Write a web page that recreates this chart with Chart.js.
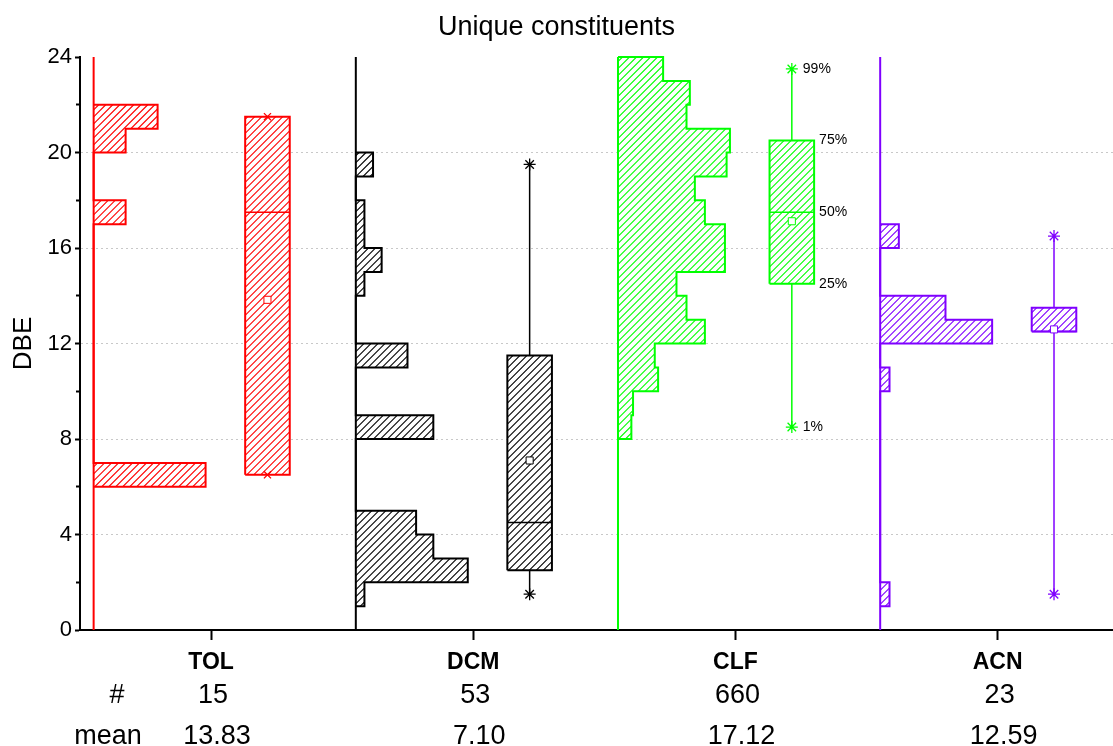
<!DOCTYPE html>
<html>
<head>
<meta charset="utf-8">
<title>Unique constituents</title>
<script src="https://cdn.jsdelivr.net/npm/chart.js@4.4.1/dist/chart.umd.min.js"></script>
<style>
  body { margin: 0; background: #fff; }
  canvas { display: block; }
</style>
</head>
<body>
<canvas id="dbeChart" width="1113" height="746"></canvas>
<script>
const categories = ['TOL', 'DCM', 'CLF', 'ACN']
const colors = ['#ff0000', '#000000', '#00ff00', '#7f00ff']

// histogram bins: lower DBE edge of each 1-wide bin and its count
const tolEdges = [6, 17, 20, 21]
const tolCounts = [7, 2, 2, 4]
const dcmEdges = [1, 2, 3, 4, 8, 11, 14, 15, 16, 17, 19]
const dcmCounts = [1, 13, 9, 7, 9, 6, 1, 3, 1, 1, 2]
const clfEdges = [8, 9, 10, 11, 12, 13, 14, 15, 16, 17, 18, 19, 20, 21, 22, 23]
const clfCounts = [8, 9, 24, 22, 52, 41, 35, 64, 64, 52, 46, 65, 67, 41, 43, 27]
const acnEdges = [1, 10, 12, 13, 16]
const acnCounts = [1, 1, 12, 7, 2]

// box plot percentiles
const p1 = [6.5, 1.5, 8.5, 1.5]
const p25 = [6.5, 2.5, 14.5, 12.5]
const p50 = [17.5, 4.5, 17.5, 12.5]
const p75 = [21.5, 11.5, 20.5, 13.5]
const p99 = [21.5, 19.5, 23.5, 16.5]

const nValues = [15, 53, 660, 23]
const meanValues = [13.83, 7.10, 17.12, 12.59]

const pctLabels = ['1%', '25%', '50%', '75%', '99%']
const yTicks = [0, 4, 8, 12, 16, 20, 24]
const yMinorTicks = [2, 6, 10, 14, 18, 22]

const histSets = [[tolEdges, tolCounts], [dcmEdges, dcmCounts], [clfEdges, clfCounts], [acnEdges, acnCounts]]

// offsets inside one category slot (x units, slot width = 1)
const HIST_BASE = -0.448
const HIST_MAX = 0.427
const BOX_OFFSET = 0.215
const BOX_HALF = 0.085
const HATCH_GAP = 7
const FONT = "'Liberation Sans', Arial, sans-serif"

Chart.defaults.font.family = FONT
Chart.defaults.color = '#000'

// step outline of a sideways histogram, starting and ending on the baseline
function histOutline(edges, counts, center) {
    const base = center + HIST_BASE
    const peak = Math.max(...counts)
    const pts = [{x: base, y: edges[0]}]
    let prevTop = edges[0]
    edges.forEach((lo, i) => {
        const x = base + counts[i] / peak * HIST_MAX
        if (lo !== prevTop) pts.push({x: base, y: prevTop}, {x: base, y: lo})
        pts.push({x: x, y: lo}, {x: x, y: lo + 1})
        prevTop = lo + 1
    })
    pts.push({x: base, y: prevTop})
    return pts
}

const datasets = []
categories.forEach((name, i) => {
    const col = colors[i]
    const base = i + HIST_BASE
    const bc = i + BOX_OFFSET
    const line = {showLine: true, pointRadius: 0, clip: false, borderColor: col}

    datasets.push({...line, data: [{x: base, y: 0}, {x: base, y: 24}], borderWidth: 2, order: 1})
    datasets.push({...line, data: histOutline(histSets[i][0], histSets[i][1], i),
        fill: 'shape', backgroundColor: '#fff', hatched: true, borderWidth: 2, order: 2})
    datasets.push({...line, data: [{x: bc, y: p1[i]}, {x: bc, y: p99[i]}], borderWidth: 1.5, order: 4})
    datasets.push({...line, data: [
        {x: bc - BOX_HALF, y: p25[i]}, {x: bc + BOX_HALF, y: p25[i]},
        {x: bc + BOX_HALF, y: p75[i]}, {x: bc - BOX_HALF, y: p75[i]},
        {x: bc - BOX_HALF, y: p25[i]}
    ], fill: 'shape', backgroundColor: '#fff', hatched: true, borderWidth: 2, order: 3})
    datasets.push({...line, data: [{x: bc - BOX_HALF, y: p50[i]}, {x: bc + BOX_HALF, y: p50[i]}], borderWidth: 1.5, order: 1})
    datasets.push({data: [{x: bc, y: p1[i]}, {x: bc, y: p99[i]}], showLine: false, clip: false,
        pointStyle: i === 0 ? 'crossRot' : 'star', pointRadius: i === 0 ? 5 : 6,
        borderColor: col, backgroundColor: col, pointBorderWidth: 1.3, order: 0})
    datasets.push({data: [{x: bc, y: meanValues[i]}], showLine: false, clip: false,
        pointStyle: 'rect', pointRadius: 5, borderColor: col, backgroundColor: '#fff',
        pointBorderWidth: 1, order: 0})
})

// diagonal hatching inside the filled shapes, drawn after the white fill and before the outline
const hatching = {
    id: 'hatching',
    beforeDatasetDraw(chart, args) {
        const ds = chart.data.datasets[args.index]
        if (!ds.hatched) return
        const pts = args.meta.data
        const c = chart.ctx
        let minX = Infinity, minY = Infinity, maxX = -Infinity, maxY = -Infinity
        c.save()
        c.beginPath()
        pts.forEach((p, j) => {
            if (j === 0) c.moveTo(p.x, p.y)
            else c.lineTo(p.x, p.y)
            minX = Math.min(minX, p.x); maxX = Math.max(maxX, p.x)
            minY = Math.min(minY, p.y); maxY = Math.max(maxY, p.y)
        })
        c.closePath()
        c.clip()
        c.strokeStyle = ds.borderColor
        c.lineWidth = 1.1
        c.beginPath()
        const start = Math.floor((minX + minY) / HATCH_GAP) * HATCH_GAP
        for (let k = start; k <= maxX + maxY + HATCH_GAP; k += HATCH_GAP) {
            c.moveTo(k - minY + 0.5, minY)
            c.lineTo(k - maxY + 0.5, maxY)
        }
        c.stroke()
        c.restore()
    }
}

// percentile labels next to the CLF box, and the count / mean rows under the axis
const annotations = {
    id: 'annotations',
    afterDraw(chart) {
        const c = chart.ctx
        const xs = chart.scales.x
        const ys = chart.scales.y
        const area = chart.chartArea

        const k = 2
        const bc = k + BOX_OFFSET
        const stats = [p1[k], p25[k], p50[k], p75[k], p99[k]]
        c.save()
        c.fillStyle = '#000'
        c.font = '14px ' + FONT
        c.textAlign = 'left'
        c.textBaseline = 'middle'
        stats.forEach((v, j) => {
            const x = (j === 0 || j === 4) ? xs.getPixelForValue(bc) + 11 : xs.getPixelForValue(bc + BOX_HALF) + 5
            c.fillText(pctLabels[j], x, ys.getPixelForValue(v))
        })

        c.font = '27px ' + FONT
        c.textAlign = 'center'
        const rowN = area.bottom + 66
        const rowMean = area.bottom + 107
        c.fillText('#', area.left + 37, rowN)
        c.fillText('mean', area.left + 28, rowMean)
        categories.forEach((name, i) => {
            const x = xs.getPixelForValue(i)
            c.fillText(String(nValues[i]), x + 2, rowN)
            c.fillText(meanValues[i].toFixed(2), x + 6, rowMean)
        })
        c.restore()
    }
}

new Chart(document.getElementById('dbeChart'), {
    type: 'scatter',
    data: { datasets: datasets },
    options: {
        responsive: false,
        animation: false,
        events: [],
        layout: { padding: 0, autoPadding: false },
        plugins: {
            legend: { display: false },
            tooltip: { enabled: false },
            title: {
                display: true,
                text: 'Unique constituents',
                color: '#000',
                font: { size: 27, weight: 'normal' },
                padding: { top: 11, bottom: 13.6 }
            }
        },
        scales: {
            x: {
                type: 'linear',
                min: -0.5,
                max: 3.44,
                afterBuildTicks: s => { s.ticks = categories.map((c, i) => ({value: i})) },
                afterFit: s => { s.height = 116 },
                ticks: {
                    callback: v => categories[v],
                    font: { size: 23, weight: 'bold' },
                    color: '#000',
                    padding: 9,
                    maxRotation: 0,
                    autoSkip: false
                },
                grid: { drawOnChartArea: false, tickLength: 10, tickWidth: 2, tickColor: '#000' },
                border: { color: '#000', width: 2 }
            },
            y: {
                min: 0,
                max: 24,
                afterBuildTicks: s => { s.ticks = yTicks.map(v => ({value: v})) },
                afterFit: s => { s.width = 80 },
                ticks: { font: { size: 22 }, color: '#000', padding: 3 },
                grid: {
                    color: c => (c.tick && c.tick.value > 0 && c.tick.value < 24) ? '#c8c8c8' : 'rgba(0,0,0,0)',
                    lineWidth: 1,
                    tickLength: 5,
                    tickWidth: 2,
                    tickColor: '#000'
                },
                border: { color: '#000', width: 2, dash: [2, 3] },
                title: { display: true, text: 'DBE', font: { size: 26 }, color: '#000', padding: { top: 8, bottom: 0 } }
            },
            yMinor: {
                axis: 'y',
                position: { x: -0.5 },
                min: 0,
                max: 24,
                afterBuildTicks: s => { s.ticks = yMinorTicks.map(v => ({value: v})) },
                ticks: { display: false },
                grid: { drawOnChartArea: false, tickLength: 4, tickWidth: 2, tickColor: '#000' },
                border: { display: false }
            }
        }
    },
    plugins: [hatching, annotations]
})
</script>
</body>
</html>
